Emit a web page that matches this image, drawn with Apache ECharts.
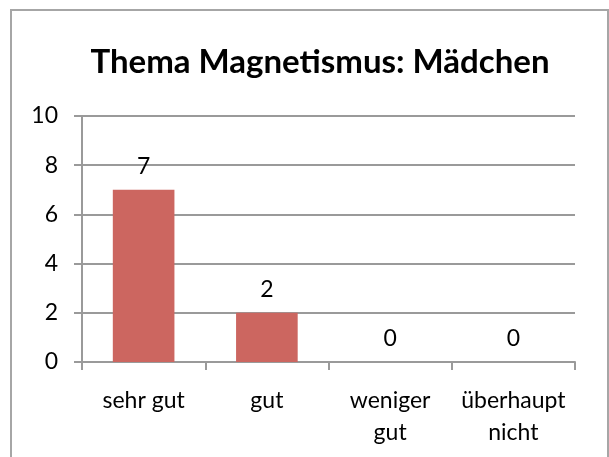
<!DOCTYPE html>
<html>
<head>
<meta charset="utf-8">
<script src="https://cdn.jsdelivr.net/npm/echarts@6/dist/echarts.min.js"></script>
<style>
  html, body { margin: 0; padding: 0; background: #fff; }
  #chart { width: 609px; height: 457px; }
</style>
</head>
<body>
<div id="chart"></div>
<script>
// Daten
const categories = ['sehr gut', 'gut', 'weniger\ngut', 'überhaupt\nnicht']
const values = [7, 2, 0, 0]
const yTicks = [0, 2, 4, 6, 8, 10]

const chart = echarts.init(document.getElementById('chart'))
chart.setOption({
  animation: false,
  textStyle: { fontFamily: 'Lato' },
  title: {
    text: 'Thema Magnetismus: Mädchen',
    left: 315,
    top: 41,
    textAlign: 'center',
    textStyle: { fontFamily: 'Lato', fontWeight: 'bold', fontSize: 33, color: '#000' }
  },
  graphic: [{
    type: 'rect',
    shape: { x: 11, y: 10, width: 597, height: 460 },
    style: { fill: 'none', stroke: '#A6A6A6', lineWidth: 2 },
    silent: true
  }],
  grid: { left: 82, right: 34, top: 116, bottom: 95 },
  xAxis: {
    type: 'category',
    data: categories,
    axisLine: { lineStyle: { color: '#9A9A9A', width: 2 } },
    axisTick: { show: true, length: 8, lineStyle: { color: '#9A9A9A', width: 2 } },
    axisLabel: { color: '#000', fontSize: 23, margin: 23, lineHeight: 32, interval: 0 }
  },
  yAxis: {
    type: 'value',
    min: yTicks[0],
    max: yTicks[yTicks.length - 1],
    interval: 2,
    axisLine: { show: true, lineStyle: { color: '#9A9A9A', width: 2 } },
    axisTick: { show: true, length: 8, lineStyle: { color: '#9A9A9A', width: 2 } },
    splitLine: { lineStyle: { color: '#9A9A9A', width: 2 } },
    axisLabel: { color: '#000', fontSize: 23, margin: 24 }
  },
  series: [{
    type: 'bar',
    data: values,
    barWidth: '50%',
    itemStyle: { color: '#CC6660' },
    label: {
      show: true,
      position: 'top',
      distance: 12,
      color: '#000',
      fontSize: 23
    }
  }]
})
</script>
</body>
</html>
